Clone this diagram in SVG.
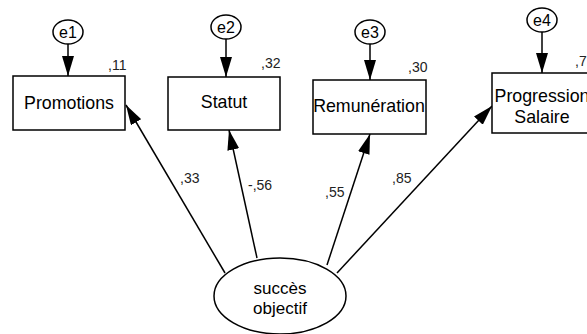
<svg xmlns="http://www.w3.org/2000/svg" width="587" height="334" viewBox="0 0 587 334">
<style>
.box{fill:#fff;stroke:#000;stroke-width:1.5}
.lat{fill:#fff;stroke:#000;stroke-width:1.5}
.lbl{font-family:"Liberation Sans",Arial,sans-serif;font-size:17.8px;fill:#000;text-anchor:middle}
.lbs{font-family:"Liberation Sans",Arial,sans-serif;font-size:17px;fill:#000;text-anchor:middle}
.err{font-family:"Liberation Sans",Arial,sans-serif;font-size:16px;fill:#000;text-anchor:middle}
.num{font-family:"Liberation Sans",Arial,sans-serif;font-size:14px;fill:#222}
.con{stroke:#000;stroke-width:1.5;fill:none;marker-end:url(#ah)}
</style>
<defs>
<marker id="ah" viewBox="0 0 20 12" refX="20" refY="6" markerWidth="20" markerHeight="12" markerUnits="userSpaceOnUse" orient="auto">
<path d="M0,0 L20,6 L0,12 z" fill="#000"/>
</marker>
</defs>
<rect width="587" height="334" fill="#fff"/>
<g id="connectors">
<line class="con" x1="68" y1="44" x2="68" y2="76"/>
<line class="con" x1="226" y1="39" x2="226" y2="77"/>
<line class="con" x1="370" y1="44" x2="370" y2="80"/>
<line class="con" x1="542" y1="32" x2="542" y2="73"/>
<line class="con" x1="225" y1="273" x2="126" y2="105"/>
<line class="con" x1="257" y1="258" x2="229" y2="130"/>
<line class="con" x1="327" y1="265" x2="370" y2="134"/>
<line class="con" x1="337" y1="273" x2="492" y2="106"/>
<text class="num" x="180" y="183">,33</text>
<text class="num" x="248" y="190">-,56</text>
<text class="num" x="325" y="197">,55</text>
<text class="num" x="392" y="183">,85</text>
</g>
<g id="e1"><ellipse class="lat" cx="68" cy="32" rx="15" ry="12"/><text class="err" x="68" y="38">e1</text></g>
<g id="e2"><ellipse class="lat" cx="226" cy="27" rx="15" ry="12"/><text class="err" x="226" y="33">e2</text></g>
<g id="e3"><ellipse class="lat" cx="370" cy="32" rx="15" ry="12"/><text class="err" x="370" y="38">e3</text></g>
<g id="e4"><ellipse class="lat" cx="542" cy="20" rx="15" ry="12"/><text class="err" x="542" y="26">e4</text></g>
<g id="promotions"><rect class="box" x="13" y="76" width="112" height="54"/><text class="lbl" x="69" y="109">Promotions</text><text class="num" x="108" y="70">,11</text></g>
<g id="statut"><rect class="box" x="168" y="77" width="112" height="53"/><text class="lbl" x="224" y="108">Statut</text><text class="num" x="261" y="68">,32</text></g>
<g id="remuneration"><rect class="box" x="313" y="80" width="113" height="54"/><text class="lbl" x="369" y="112">Remunération</text><text class="num" x="408" y="72">,30</text></g>
<g id="progression"><rect class="box" x="492" y="73" width="100" height="60"/><text class="lbl" x="542" y="102">Progression</text><text class="lbl" x="542" y="123">Salaire</text><text class="num" x="575" y="66">,7</text></g>
<g id="succes"><ellipse class="lat" cx="280" cy="296" rx="66" ry="38"/><text class="lbs" x="280" y="294">succès</text><text class="lbs" x="280" y="314">objectif</text></g>
</svg>
